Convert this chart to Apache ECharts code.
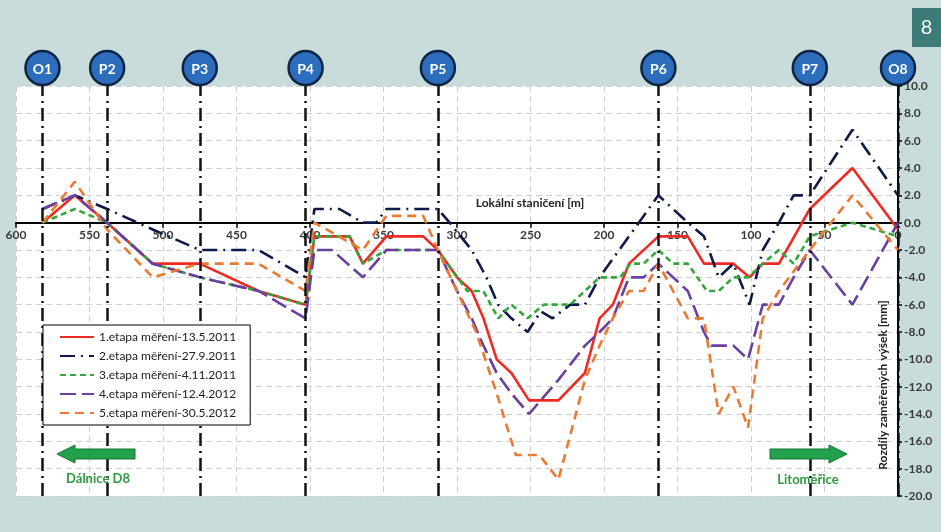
<!DOCTYPE html>
<html>
<head>
<meta charset="utf-8">
<script src="https://cdn.jsdelivr.net/npm/echarts@6/dist/echarts.min.js"></script>
<style>
html,body{margin:0;padding:0;background:#c8dcdc;}
#chart{width:941px;height:532px;}
</style>
</head>
<body>
<div id="chart"></div>
<script>
// Series names
const seriesNames = [
  '1.etapa měření-13.5.2011',
  '2.etapa měření-27.9.2011',
  '3.etapa měření-4.11.2011',
  '4.etapa měření-12.4.2012',
  '5.etapa měření-30.5.2012'
];

// 1. etapa (red)
const st1 = [582,560,538,507,475,435,403,397,373,364,348,323,313,300,290,282,273,263,251,231,213,203,194,183,163,143,132,112,101,92,81,60,31,0];
const v1  = [0,2,0,-3,-3,-5,-6,-1,-1,-3,-1,-1,-2,-4,-5,-7,-10,-11,-13,-13,-11,-7,-6,-3,-1,-1,-3,-3,-4,-3,-3,1,4,-0.5];

// 2. etapa (navy)
const st2 = [582,560,538,507,475,435,403,397,380,364,355,348,313,305,290,280,272,263,252,243,235,223,213,203,163,143,132,122,112,101,92,81,71,60,31,0];
const v2  = [1,2,1,-0.5,-2,-2,-4,1,1,0,0,1,1,0,-2,-4,-6,-7,-8,-6.5,-7,-6,-6,-4,2,0,-1,-4,-3,-6,-2,0,2,2,6.8,2];

// 3. etapa (green)
const st3 = [582,560,538,507,475,435,403,397,373,364,348,323,313,293,282,272,263,252,241,223,203,189,182,173,163,153,143,130,122,112,102,92,81,71,60,31,0];
const v3  = [0,1,0,-3,-4,-5,-6,-1,-1,-3,-2,-2,-2,-5,-5,-7,-6,-7,-6,-6,-4,-4,-3,-3,-2,-3,-3,-5,-5,-4,-4,-3,-2,-3,-1,0,-1];

// 4. etapa (purple)
const st4 = [582,560,538,507,475,435,403,397,385,364,348,323,313,300,290,282,273,263,251,231,213,203,194,183,173,163,153,143,132,127,112,102,92,81,71,60,31,0];
const v4  = [1,2,0,-3,-4,-5,-7,-2,-2,-4,-2,-2,-2,-5,-7,-9,-11,-12.5,-14,-11.5,-9,-8,-7,-4,-4,-3,-4,-5,-8,-9,-9,-10,-6,-6,-4,-2,-6,0];

// 5. etapa (orange)
const st5 = [582,560,538,507,475,435,403,397,364,348,323,313,300,287,273,260,244,231,213,203,194,183,173,163,153,143,132,122,112,102,92,81,60,31,0];
const v5  = [0,3,-0.5,-4,-3,-3,-5,0,-2,0.5,0.5,-2,-5,-8,-12.5,-17,-17,-18.8,-11.5,-9,-7,-5,-5,-3,-5,-7,-7,-14,-12,-15,-7,-5,-2,2,-2];

// Survey points (vertical markers)
const markerPos   = [582,538,475,403,313,163,60,0];
const markerNames = ['O1','P2','P3','P4','P5','P6','P7','O8'];

// Axis ticks
const xTicks = {min:0, max:600, interval:50};
const yTicks = {min:-20, max:10, interval:2};

const colors = ['#ee2a24','#0e1a48','#33a83a','#6b3fa0','#ea7a30'];
const dashes = ['solid',[15,6,2,6],[6,4],[16,6],[9,6]];
const stations = [st1,st2,st3,st4,st5];
const values = [v1,v2,v3,v4,v5];

const FONT = 'Lato';
const GRID = {left:16, right:43, top:86, bottom:36};
const gridH = 532 - GRID.top - GRID.bottom;
// place the x axis (line + labels) at y = 0
const xOffset = -gridH * (0 - yTicks.min) / (yTicks.max - yTicks.min);

const lineSeries = seriesNames.map((n,k)=>({
  name:n, type:'line', z:3,
  data: stations[k].map((x,i)=>[x, values[k][i]]),
  showSymbol:false, symbol:'none',
  lineStyle:{color:colors[k], width:2.6, type:dashes[k]},
  itemStyle:{color:colors[k]},
  silent:true, animation:false
}));

const markerSeries = {
  type:'custom', clip:false, animation:false, silent:true,
  data: markerPos.map((p,i)=>[p, markerNames[i]]),
  renderItem:function(params, api){
    const c = api.coord([api.value(0), yTicks.max]);
    const cx = c[0], cy = c[1]-18;
    return {type:'group', children:[
      {type:'circle', shape:{cx:cx, cy:cy, r:17},
       style:{fill:'#2c6dbd', stroke:'#0f2440', lineWidth:2.5}},
      {type:'text', style:{text:markerNames[params.dataIndex], x:cx, y:cy+1,
        align:'center', verticalAlign:'middle', fill:'#fff',
        font:'bold 14px '+FONT}}
    ]};
  },
  markLine:{
    symbol:'none', silent:true, animation:false,
    label:{show:false},
    lineStyle:{color:'#111', width:2.5, type:[13,5,2,5]},
    data: markerPos.map(v=>({xAxis:v}))
  },
  z:2
};

const chart = echarts.init(document.getElementById('chart'), null, {renderer:'canvas'});
chart.setOption({
  backgroundColor:'#c8dcdc',
  animation:false,
  grid:Object.assign({show:true, backgroundColor:'#ffffff', borderWidth:0}, GRID),
  xAxis:{
    type:'value', min:xTicks.min, max:xTicks.max, interval:xTicks.interval, inverse:true,
    position:'bottom', offset:xOffset,
    axisLine:{onZero:false, lineStyle:{color:'#000', width:2}},
    axisTick:{show:true, length:5, lineStyle:{color:'#000', width:1.5}},
    axisLabel:{color:'#3a3a3a', fontFamily:FONT, fontWeight:'bold', fontSize:12, margin:6},
    splitLine:{show:true, lineStyle:{color:'#d2d2d2', type:[6,4], width:1}}
  },
  yAxis:{
    type:'value', position:'right', min:yTicks.min, max:yTicks.max, interval:yTicks.interval,
    axisLine:{show:true, onZero:false, lineStyle:{color:'#000', width:2}},
    axisTick:{show:true, length:4, lineStyle:{color:'#000', width:1.5}},
    axisLabel:{color:'#3a3a3a', fontFamily:FONT, fontWeight:'bold', fontSize:12, margin:6,
      formatter:v=>v.toFixed(1)},
    splitLine:{show:true, lineStyle:{color:'#d2d2d2', type:[6,4], width:1}}
  },
  legend:{
    data:seriesNames, orient:'vertical', left:43, top:325, z:20,
    backgroundColor:'#fff', borderColor:'#000', borderWidth:1,
    padding:[6,14,6,16], itemWidth:34, itemHeight:12, itemGap:7,
    selectedMode:false,
    itemStyle:{opacity:0},
    textStyle:{fontFamily:FONT, fontSize:12, color:'#222'}
  },
  graphic:[
    {type:'text', x:530, y:203, z:10, style:{text:'Lokální staničení [m]', font:'bold 12px '+FONT, fill:'#222', align:'center', verticalAlign:'middle'}},
    {type:'text', x:883, y:385, rotation:Math.PI/2, z:10, style:{text:'Rozdíly zaměřených výšek [mm]', font:'bold 12px '+FONT, fill:'#222', align:'center', verticalAlign:'middle'}},
    {type:'polygon', z:10, shape:{points:[[57,454],[75,445],[75,449],[135,449],[135,459],[75,459],[75,463]]}, style:{fill:'#22a04a', stroke:'#137536', lineWidth:1}},
    {type:'text', x:98, y:479, z:10, style:{text:'Dálnice D8', font:'bold 13px '+FONT, fill:'#2e9a40', align:'center', verticalAlign:'middle'}},
    {type:'polygon', z:10, shape:{points:[[847,454],[829,445],[829,449],[770,449],[770,459],[829,459],[829,463]]}, style:{fill:'#22a04a', stroke:'#137536', lineWidth:1}},
    {type:'text', x:808, y:480, z:10, style:{text:'Litoměřice', font:'bold 13px '+FONT, fill:'#2e9a40', align:'center', verticalAlign:'middle'}},
    {type:'rect', z:10, shape:{x:912, y:8, width:29, height:39}, style:{fill:'#3c7b77'}},
    {type:'text', x:926.5, y:28, z:11, style:{text:'8', font:'20px '+FONT, fill:'#fff', align:'center', verticalAlign:'middle'}}
  ],
  series: lineSeries.concat([markerSeries])
});
</script>
</body>
</html>
